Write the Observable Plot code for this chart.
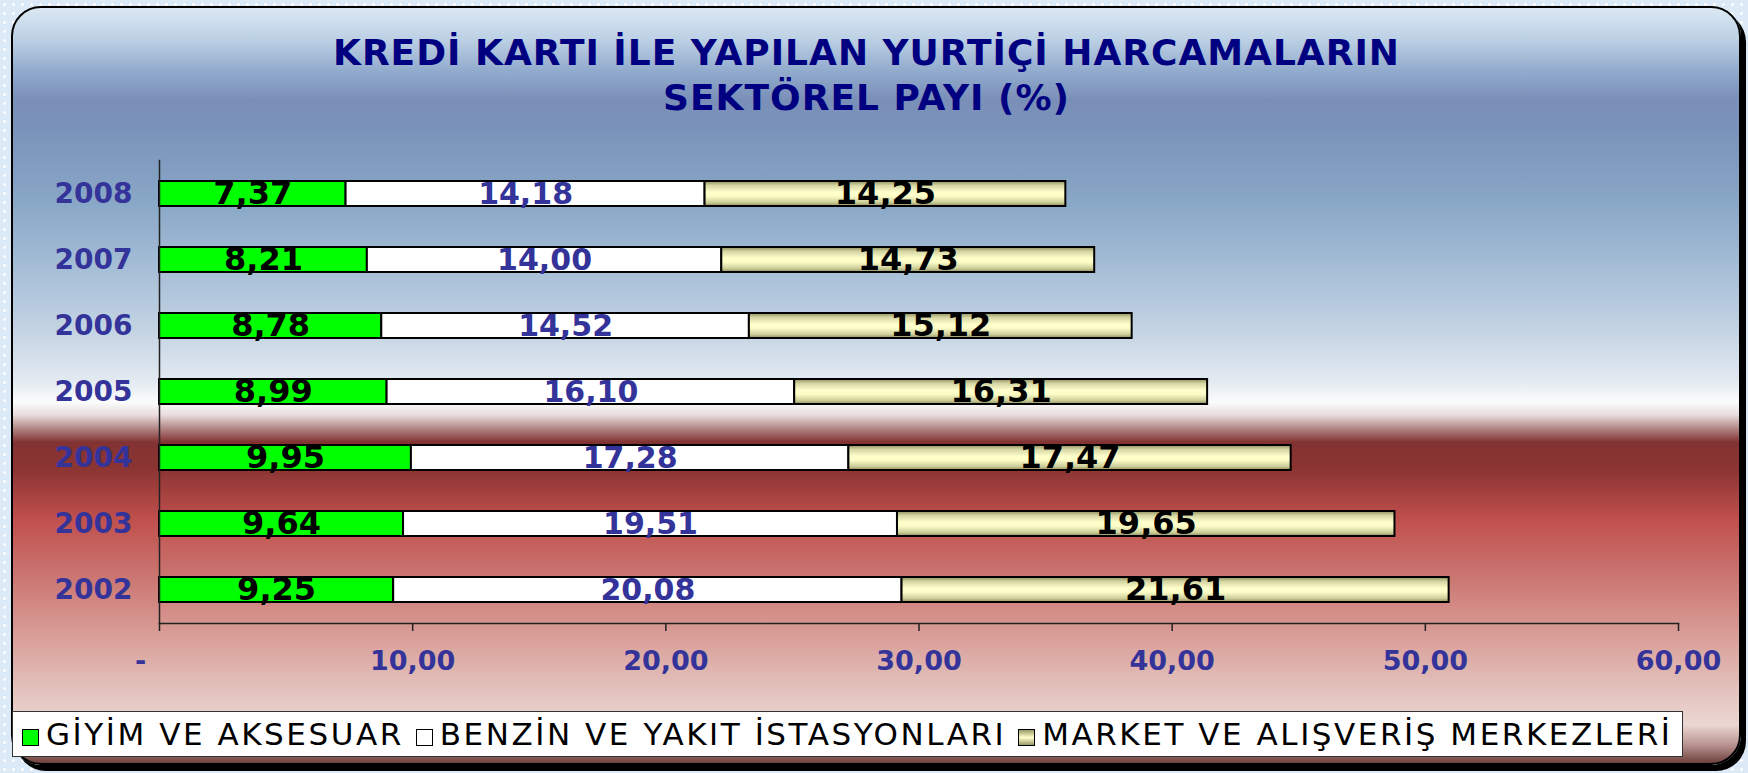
<!DOCTYPE html>
<html>
<head>
<meta charset="utf-8">
<script src="https://cdn.jsdelivr.net/npm/d3@7"></script>
<script src="https://cdn.jsdelivr.net/npm/@observablehq/plot@0.6"></script>
<style>
html, body { margin: 0; padding: 0; }
body {
  width: 1748px; height: 773px; overflow: hidden; position: relative;
  background-color: #dce9f6;
  background-image: radial-gradient(circle, #ffffff 1px, transparent 1.6px);
  background-size: 9px 9px;
  font-family: "DejaVu Sans", sans-serif;
}
#frame {
  position: absolute; left: 11px; top: 6px; width: 1726px; height: 755px;
  border: 2px solid #000; border-radius: 30px;
  box-shadow: 5px 6px 0 0 #000;
  background: linear-gradient(to bottom,
    #dbe8f4 0%, #bcd0e4 4.2%, #93acce 8.2%, #7a8fb8 12.2%, #7a93ba 16.2%,
    #88a6c6 25.4%, #a2bbd5 33.4%, #c3d3e3 42.6%, #e2e9f1 49.3%, #fbfcfd 52.2%,
    #eadcdc 53.9%, #b58a8a 55.6%, #823232 57.5%, #8c3533 61.2%, #c0504d 67.8%,
    #c9716d 74.4%, #d89a94 82.4%, #e3c2bd 90.3%, #ebd7d3 95%, #b89390 97.6%, #6e403c 100%);
}
#title {
  position: absolute; left: 0; top: 30px; width: 1733px; text-align: center;
  font: bold 36px/45px "DejaVu Sans", sans-serif; letter-spacing: 1px; color: #000080;
}
#chart { position: absolute; left: 0; top: 130px; }
#legend {
  position: absolute; left: 12px; top: 711px; width: 1671px; height: 46px;
  box-sizing: border-box; background: #fff; border: 1px solid #333;
  display: flex; align-items: center; padding-left: 9px;
  font: 31px "DejaVu Sans", sans-serif; letter-spacing: 2.55px; color: #000; white-space: nowrap;
}
#legend .item { display: flex; align-items: center; margin-right: 12px; }
#legend .sw { width: 15px; height: 15px; border: 1.5px solid #000; margin-right: 7px; margin-top: 7px; }
</style>
</head>
<body>
<div id="frame"></div>
<div id="title">KREDİ KARTI İLE YAPILAN YURTİÇİ HARCAMALARIN<br>SEKTÖREL PAYI (%)</div>
<div id="chart"></div>
<div id="legend"></div>
<script>
// ---- data ----
const years = ["2008", "2007", "2006", "2005", "2004", "2003", "2002"];
const giyim = [7.37, 8.21, 8.78, 8.99, 9.95, 9.64, 9.25];
const benzin = [14.18, 14.00, 14.52, 16.10, 17.28, 19.51, 20.08];
const market = [14.25, 14.73, 15.12, 16.31, 17.47, 19.65, 21.61];
const seriesNames = ["GİYİM VE AKSESUAR", "BENZİN VE YAKIT İSTASYONLARI", "MARKET VE ALIŞVERİŞ MERKEZLERİ"];
const xTicks = [0, 10, 20, 30, 40, 50, 60];

// ---- styles ----
const seriesFills = ["#00ff00", "#ffffff", "url(#marketGrad)"];
const legendFills = ["#00ff00", "#ffffff", "linear-gradient(to bottom, #9a9a68, #ffffcc 50%, #9a9a68)"];
const labelFills = ["#000000", "#333399", "#000000"];
const labelSizes = [32, 30, 32];

const fmt = v => v.toFixed(2).replace(".", ",");
const tickFmt = v => v === 0 ? "-\u2007\u2007" : fmt(v);

const seriesValues = [giyim, benzin, market];
const stacked = seriesValues.map((vals, s) => years.map((year, i) => {
  const start = d3.sum(seriesValues.slice(0, s), arr => arr[i]);
  return {year, value: vals[i], x1: start, x2: start + vals[i]};
}));

const defs = () => {
  const d = d3.create("svg:defs");
  const g = d.append("linearGradient").attr("id", "marketGrad")
    .attr("x1", 0).attr("y1", 0).attr("x2", 0).attr("y2", 1);
  [[0, "#8f8f5e"], [0.18, "#d6d6a4"], [0.45, "#ffffcc"], [0.6, "#fdfdc8"], [0.85, "#cfcf9c"], [1, "#8f8f5e"]]
    .forEach(([o, c]) => g.append("stop").attr("offset", o).attr("stop-color", c));
  return d.node();
};

const marks = [defs];
stacked.forEach((rows, s) => {
  marks.push(Plot.barX(rows, {x1: "x1", x2: "x2", y: "year", fill: seriesFills[s], stroke: "#000", strokeWidth: 2}));
});
stacked.forEach((rows, s) => {
  marks.push(Plot.text(rows, {
    x: d => (d.x1 + d.x2) / 2, y: "year", text: d => fmt(d.value),
    fill: labelFills[s], fontSize: labelSizes[s], fontWeight: "bold"
  }));
});
marks.push(
  Plot.frame({anchor: "left", stroke: "#222", strokeWidth: 1.5}),
  Plot.frame({anchor: "bottom", stroke: "#222", strokeWidth: 1.5}),
  Plot.axisX({ticks: xTicks, tickSize: 8, tickPadding: 19, tickFormat: tickFmt, stroke: "#222", strokeWidth: 1.5,
    fill: "#333399", fontSize: 27, fontWeight: "bold", label: null}),
  Plot.axisY({tickSize: 0, tickPadding: 27, fill: "#333399", fontSize: 28, fontWeight: "bold", label: null})
);

const chart = Plot.plot({
  width: 1748, height: 560,
  marginTop: 30, marginBottom: 67, marginLeft: 159, marginRight: 70,
  style: {background: "transparent", fontFamily: "DejaVu Sans", overflow: "visible"},
  x: {domain: [0, 60]},
  y: {domain: years, paddingInner: 0.62, paddingOuter: 0.31},
  marks
});
document.getElementById("chart").appendChild(chart);

// ---- legend ----
const legend = document.getElementById("legend");
seriesNames.forEach((name, s) => {
  const item = document.createElement("div");
  item.className = "item";
  const sw = document.createElement("span");
  sw.className = "sw";
  sw.style.background = legendFills[s];
  const t = document.createElement("span");
  t.textContent = name;
  item.appendChild(sw);
  item.appendChild(t);
  legend.appendChild(item);
});
</script>
</body>
</html>
